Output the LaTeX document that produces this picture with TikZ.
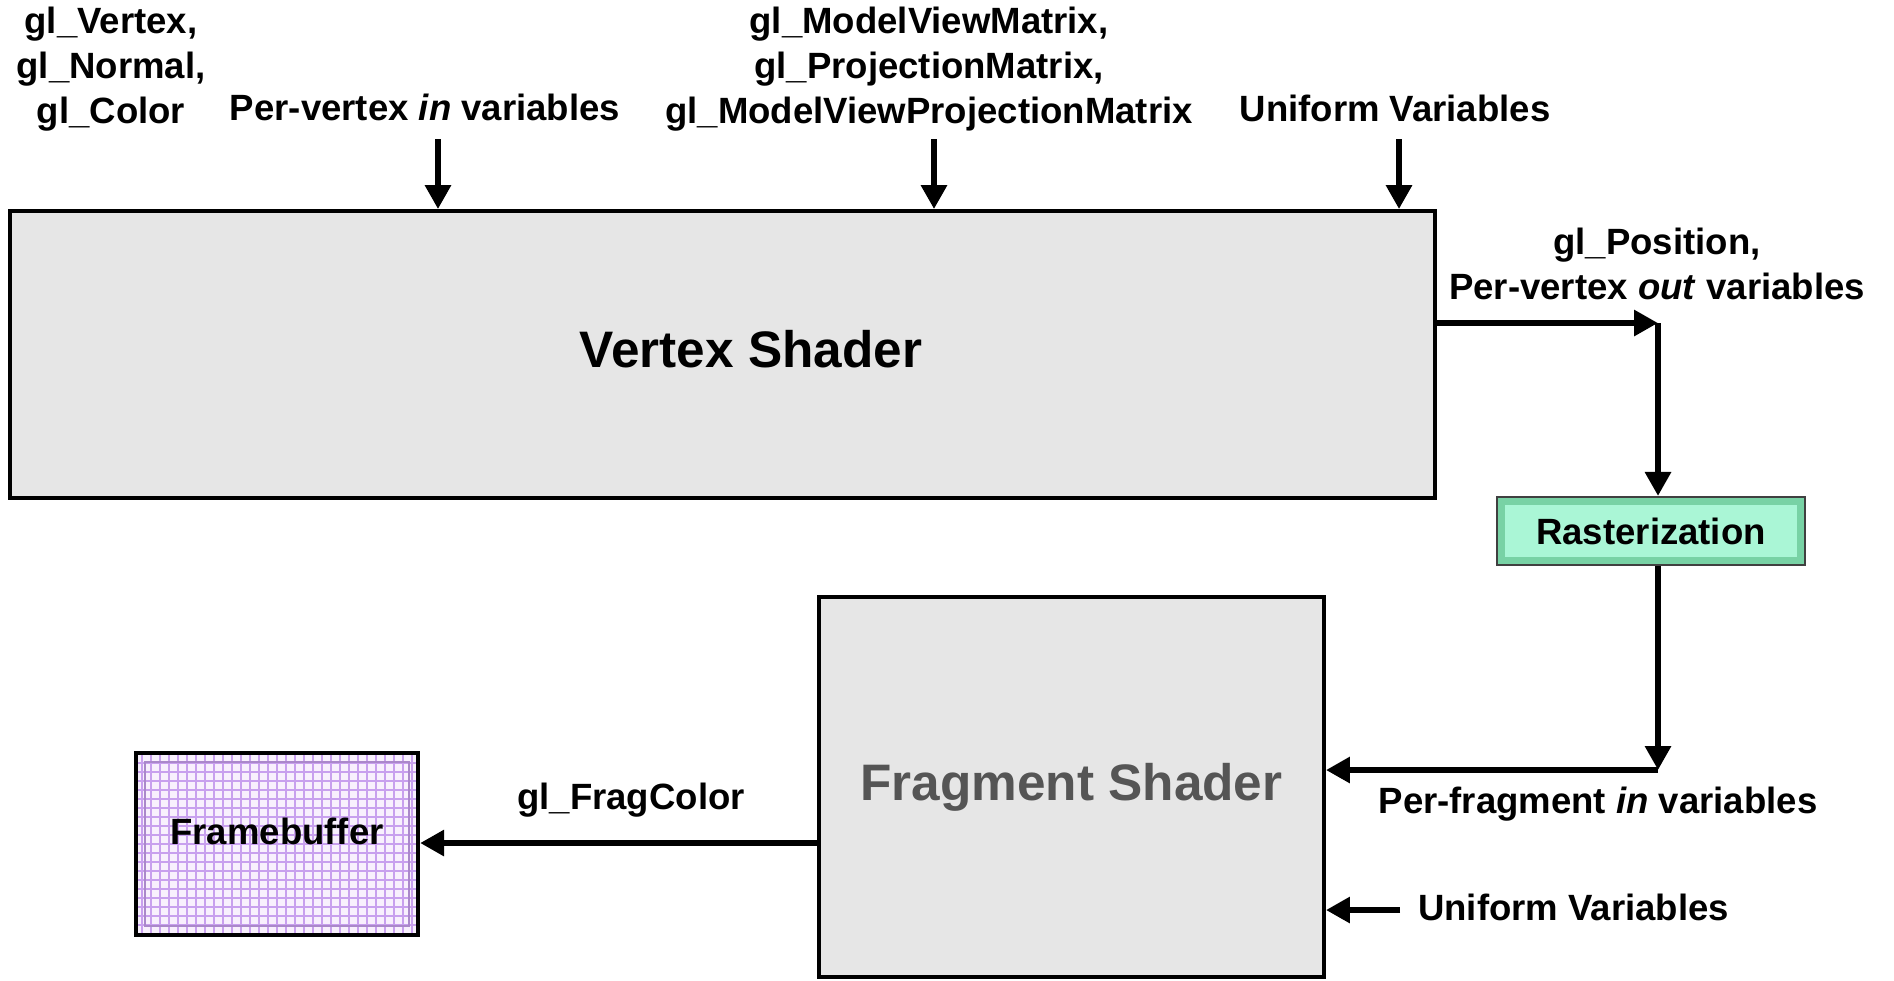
\documentclass[tikz,border=0pt]{standalone}
\usepackage{fontspec}
\setmainfont{Liberation Sans}
\usepackage{tikz}
\usetikzlibrary{positioning,arrows.meta,calc}

\definecolor{shaderfill}{RGB}{230,230,230}
\definecolor{rastedge}{RGB}{120,210,165}
\definecolor{rastfill}{RGB}{170,246,214}
\definecolor{fbfill}{RGB}{248,240,253}
\definecolor{fbgrid}{RGB}{200,160,238}
\definecolor{fragtext}{RGB}{85,85,85}

\begin{document}
\begin{tikzpicture}[
    font=\fontsize{10.4}{12.8}\selectfont\bfseries,
    op/.style={-{Triangle[length=2.4mm, width=2.5mm]}, line width=1.7pt},
    shader/.style={draw, line width=1.1pt, fill=shaderfill, inner sep=0pt,
                   font=\fontsize{14.6}{17}\selectfont\bfseries},
    lbl/.style={align=center, inner sep=1pt},
  ]
  \useasboundingbox (0,0) rectangle (18.94,-9.80);

  % the two shader stages
  \node[shader, minimum width=14.25cm, minimum height=2.87cm] (vs) at (7.225,-3.545) {};
  \node[font=\fontsize{14.6}{17}\selectfont\bfseries] (vstext) at (7.51,-3.49) {Vertex Shader};
  \node[shader, minimum width=5.05cm, minimum height=3.80cm, text=fragtext] (fs)
    at (10.715,-7.87) {Fragment Shader};

  % fixed-function boxes
  \node[draw=black!75, line width=0.6pt, fill=rastedge, minimum width=3.08cm,
        minimum height=0.68cm, inner sep=0pt,
        path picture={\fill[rastfill] ($(path picture bounding box.south west)+(0.08,0.08)$)
          rectangle ($(path picture bounding box.north east)-(0.08,0.08)$);}]
    (rast) at (16.51,-5.31) {Rasterization};
  \node[draw, line width=1.2pt, fill=fbfill, minimum width=2.82cm,
        minimum height=1.82cm, inner sep=0pt,
        path picture={\draw[fbgrid, line width=0.6pt, step=0.09]
          (path picture bounding box.south west) grid (path picture bounding box.north east);
          \draw[fbgrid!85!black, line width=0.8pt]
          ($(path picture bounding box.south west)+(0.09,0.09)$)
          rectangle ($(path picture bounding box.north east)-(0.09,0.09)$);}]
    (fb) at (2.77,-8.44) {};
  \node (fbtext) at (2.77,-8.31) {Framebuffer};

  % inputs of the vertex shader
  \node[lbl] (attr) at (1.11,-0.69) {gl\_Vertex,\\gl\_Normal,\\gl\_Color};
  \node[lbl] (vin) at (4.25,-1.07) {Per-vertex \textit{in} variables};
  \node[lbl] (mats) at (9.29,-0.69)
    {gl\_ModelViewMatrix,\\gl\_ProjectionMatrix,\\gl\_ModelViewProjectionMatrix};
  \node[lbl] (vuni) at (13.95,-1.08) {Uniform Variables};

  \coordinate (vin0) at (4.38,-1.39);
  \coordinate (mats0) at (9.34,-1.39);
  \coordinate (vuni0) at (13.99,-1.39);
  \draw[op] (vin0) -- (vin0 |- vs.north);
  \draw[op] (mats0) -- (mats0 |- vs.north);
  \draw[op] (vuni0) -- (vuni0 |- vs.north);

  % vertex shader -> rasterization
  \coordinate (vout) at (16.58,-3.23);
  \draw[op] (vout -| vs.east) -- (vout);
  \draw[op] (vout) -- (vout |- rast.north);
  \node[lbl] (vouttext) at (16.57,-2.64) {gl\_Position,\\Per-vertex \textit{out} variables};

  % rasterization -> fragment shader
  \coordinate (fin) at (16.58,-7.70);
  \draw[op] (fin |- rast.south) -- (fin);
  \draw[op] (fin) -- (fin -| fs.east);
  \node[lbl] (fintext) at (15.98,-8.04) {Per-fragment \textit{in} variables};

  \coordinate (funi) at (14.00,-9.10);
  \draw[op] (funi) -- (funi -| fs.east);
  \node[lbl, anchor=west] (funitext) at (14.14,-9.07) {Uniform Variables};

  % fragment shader -> framebuffer
  \coordinate (fout) at (8.19,-8.43);
  \draw[op] (fout -| fs.west) -- (fout -| fb.east);
  \node[lbl] (fouttext) at (6.31,-8.00) {gl\_FragColor};
\end{tikzpicture}
\end{document}
